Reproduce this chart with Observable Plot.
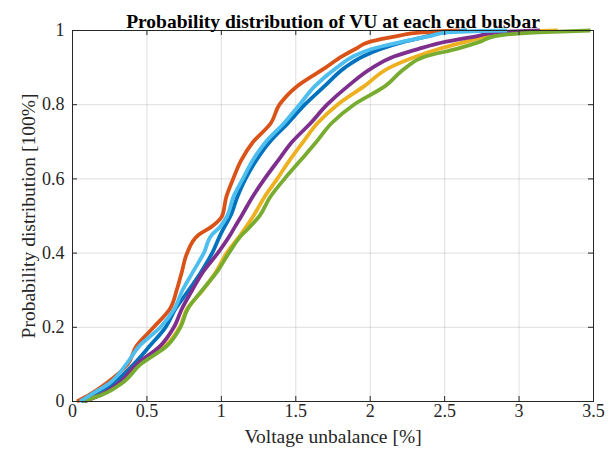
<!DOCTYPE html>
<html>
<head>
<meta charset="utf-8">
<script src="https://cdn.jsdelivr.net/npm/d3@7"></script>
<script src="https://cdn.jsdelivr.net/npm/@observablehq/plot@0.6"></script>
<style>
  html, body { margin: 0; padding: 0; background: #fff; }
  svg text { font-family: 'Liberation Serif', 'Times New Roman', serif; }
</style>
</head>
<body>
<div id="chart"></div>
<script>
// Probability levels (y) and the VU value (x, %) at which each busbar CDF reaches them
const probLevels = [0, 0.02, 0.05, 0.1, 0.15, 0.2, 0.25, 0.3, 0.35, 0.4, 0.45, 0.47, 0.5, 0.55, 0.6, 0.65, 0.7, 0.75, 0.8, 0.85, 0.9, 0.93, 0.95, 0.97, 0.985, 0.995, 1];
const busBlue      = [0.06, 0.166, 0.278, 0.41, 0.52, 0.625, 0.692, 0.781, 0.865, 0.938, 0.994, 1.02, 1.061, 1.106, 1.162, 1.234, 1.326, 1.447, 1.56, 1.693, 1.83, 1.95, 2.07, 2.23, 2.39, 2.5, 2.65];
const busOrange    = [0.03, 0.12, 0.23, 0.37, 0.43, 0.545, 0.655, 0.70, 0.735, 0.77, 0.85, 0.93, 1.005, 1.032, 1.079, 1.133, 1.214, 1.332, 1.39, 1.509, 1.70, 1.81, 1.90, 2.0, 2.18, 2.35, 2.6];
const busYellow    = [0.08, 0.2, 0.33, 0.45, 0.625, 0.72, 0.77, 0.875, 0.965, 1.035, 1.13, 1.165, 1.215, 1.288, 1.375, 1.458, 1.55, 1.645, 1.78, 1.96, 2.13, 2.31, 2.46, 2.645, 2.79, 2.95, 3.26];
const busPurple    = [0.08, 0.2, 0.311, 0.43, 0.59, 0.681, 0.735, 0.804, 0.878, 0.976, 1.061, 1.09, 1.135, 1.207, 1.29, 1.382, 1.476, 1.599, 1.71, 1.85, 2.016, 2.16, 2.32, 2.51, 2.72, 2.85, 3.14];
const busGreen     = [0.07, 0.21, 0.334, 0.457, 0.635, 0.725, 0.775, 0.871, 0.972, 1.05, 1.14, 1.19, 1.256, 1.326, 1.424, 1.532, 1.639, 1.74, 1.89, 2.10, 2.24, 2.37, 2.575, 2.74, 2.84, 3.13, 3.48];
const busLightBlue = [0.05, 0.13, 0.25, 0.36, 0.45, 0.59, 0.685, 0.739, 0.81, 0.882, 0.938, 0.99, 1.039, 1.079, 1.144, 1.211, 1.299, 1.42, 1.525, 1.628, 1.775, 1.885, 2.01, 2.22, 2.40, 2.52, 2.92];

const seriesNames  = ["Bus 1", "Bus 2", "Bus 3", "Bus 4", "Bus 5", "Bus 6"];
const seriesColors = ["#0072BD", "#D95319", "#EDB120", "#7E2F8E", "#77AC30", "#4DBEEE"];
const seriesValues = [busBlue, busOrange, busYellow, busPurple, busGreen, busLightBlue];

const xTicks = [0, 0.5, 1, 1.5, 2, 2.5, 3, 3.5];
const yTicks = [0, 0.2, 0.4, 0.6, 0.8, 1];
const xTickLabels = ["0", "0.5", "1", "1.5", "2", "2.5", "3", "3.5"];
const yTickLabels = ["0", "0.2", "0.4", "0.6", "0.8", "1"];

const titleText = "Probability distribution of VU at each end busbar";
const xLabelText = "Voltage unbalance [%]";
const yLabelText = "Probability distribution [100%]";

const rows = [];
seriesValues.forEach((vals, s) => {
  vals.forEach((v, i) => rows.push({series: seriesNames[s], x: v, p: probLevels[i]}));
});

const W = 615, H = 460;
const mTop = 30, mBottom = 59, mLeft = 72, mRight = 22;
const plotH = H - mTop - mBottom;
const plotW = W - mLeft - mRight;
const ink = "#262626";
const serif = "'Liberation Serif', 'Times New Roman', serif";

const chart = Plot.plot({
  width: W,
  height: H,
  marginTop: mTop,
  marginBottom: mBottom,
  marginLeft: mLeft,
  marginRight: mRight,
  style: {fontFamily: serif, fontSize: "18px", color: ink, background: "#fff", overflow: "visible"},
  x: {domain: [0, 3.5]},
  y: {domain: [0, 1]},
  color: {domain: seriesNames, range: seriesColors},
  marks: [
    Plot.ruleX(xTicks, {x: d => d, stroke: "#000", strokeOpacity: 0.13}),
    Plot.ruleY(yTicks, {y: d => d, stroke: "#000", strokeOpacity: 0.13}),
    Plot.line(rows, {x: "x", y: "p", z: "series", stroke: "series", strokeWidth: 3.8, curve: "monotone-y", strokeLinejoin: "round", strokeLinecap: "butt"}),
    // inward ticks on all four sides
    Plot.ruleX(xTicks, {x: d => d, insetTop: plotH - 5, stroke: ink}),
    Plot.ruleX(xTicks, {x: d => d, insetBottom: plotH - 5, stroke: ink}),
    Plot.ruleY(yTicks, {y: d => d, insetRight: plotW - 5, stroke: ink}),
    Plot.ruleY(yTicks, {y: d => d, insetLeft: plotW - 5, stroke: ink}),
    Plot.frame({stroke: ink, strokeWidth: 1}),
    Plot.axisX(xTicks, {tickSize: 0, tickPadding: 3, tickFormat: d => xTickLabels[xTicks.indexOf(d)], label: null, fill: ink, fontFamily: serif, fontSize: 18}),
    Plot.axisY(yTicks, {tickSize: 0, tickPadding: 8, tickFormat: d => yTickLabels[yTicks.indexOf(d)], label: null, fill: ink, fontFamily: serif, fontSize: 18}),
    Plot.text([titleText], {frameAnchor: "top", dy: -16, fontWeight: "bold", fontSize: 19.5, fill: "#000", fontFamily: serif, text: d => d}),
    Plot.text([xLabelText], {frameAnchor: "bottom", dy: 41, fontSize: 19.5, fill: ink, fontFamily: serif, text: d => d}),
    Plot.text([yLabelText], {frameAnchor: "left", dx: -44, rotate: -90, textAnchor: "middle", fontSize: 19.5, fill: ink, fontFamily: serif, text: d => d})
  ]
});
document.getElementById("chart").appendChild(chart);
</script>
</body>
</html>
